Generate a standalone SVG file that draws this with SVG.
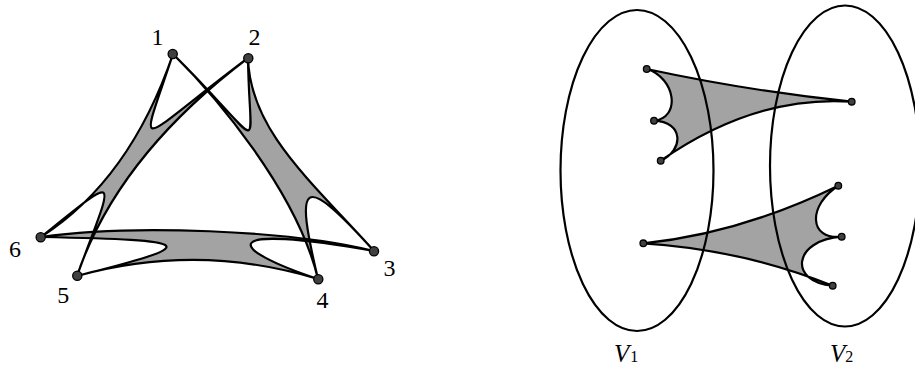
<svg xmlns="http://www.w3.org/2000/svg" width="915" height="369" viewBox="0 0 915 369">
<style>
.fill{fill:#a3a3a3;stroke:none}
.edge{fill:none;stroke:#000;stroke-width:2.2;stroke-linejoin:round}
.set{fill:none;stroke:#000;stroke-width:2.2}
.nd{fill:#404040;stroke:#000;stroke-width:1.3}
.lbl{font-family:"Liberation Serif",serif;font-size:24px;fill:#000;text-anchor:middle}
.vl{font-family:"Liberation Serif",serif;font-size:25px;font-style:italic;fill:#000}
.sub{font-style:normal;font-size:16px}
</style>
<defs>
<path id="eL" d="M41,237 Q130,180 173,54 C138,160 132,145 248,58 Q117,157 77,276 C114,175 124,170 41,237 Z"/>
<path id="eR" d="M248,58 C250,130 310,180 374,251 C300,169 295,182 318,279 C297,191.5 215.6,96 173,54 C270,150 249,160 248,58 Z"/>
<path id="eB" d="M41,237 C130,224 290,230 374,251 C215,223 225,248 318,279 Q198.5,242.5 77,276 C205,244 198,240 41,237 Z"/>
<path id="eT2" d="M646.7,69 Q749,91 851.7,101.7 Q755,95 660.7,160.7 C684,150 684,122 654,120.7 C681,118 676,78 646.7,69 Z"/>
<path id="eB2" d="M643.3,243.3 Q739.2,233.8 838.3,185.7 C808,205 808,240 841.7,236.7 C793,240 788,282 832.7,285.7 Q742.2,249.5 643.3,243.3 Z"/>
</defs>
<g id="connectors">
<use href="#eL" class="fill"/>
<use href="#eR" class="fill"/>
<use href="#eB" class="fill"/>
<use href="#eT2" class="fill"/>
<use href="#eB2" class="fill"/>
<use href="#eL" class="edge"/>
<use href="#eR" class="edge"/>
<use href="#eB" class="edge"/>
<use href="#eT2" class="edge"/>
<use href="#eB2" class="edge"/>
</g>
<g id="set-V1">
<ellipse class="set" cx="637" cy="170.5" rx="76.5" ry="160.5"/>
<text class="vl" x="614" y="361.5">V<tspan class="sub" dx="1" dy="0.5">1</tspan></text>
</g>
<g id="set-V2">
<ellipse class="set" cx="845" cy="166" rx="75" ry="160.5"/>
<text class="vl" x="830" y="361.5">V<tspan class="sub" dx="0" dy="0.5">2</tspan></text>
</g>
<g id="node-1"><circle class="nd" cx="172.7" cy="54" r="4.6"/><text class="lbl" x="157.5" y="45">1</text></g>
<g id="node-2"><circle class="nd" cx="248.3" cy="58.3" r="4.6"/><text class="lbl" x="254.5" y="45">2</text></g>
<g id="node-3"><circle class="nd" cx="374" cy="251.3" r="4.6"/><text class="lbl" x="389.5" y="276">3</text></g>
<g id="node-4"><circle class="nd" cx="318.3" cy="279.3" r="4.6"/><text class="lbl" x="322.5" y="308">4</text></g>
<g id="node-5"><circle class="nd" cx="77.3" cy="275.7" r="4.6"/><text class="lbl" x="63.3" y="303">5</text></g>
<g id="node-6"><circle class="nd" cx="40.7" cy="237.3" r="4.6"/><text class="lbl" x="15" y="256.5">6</text></g>
<g id="node-a"><circle class="nd" cx="646.7" cy="69" r="3.3"/></g>
<g id="node-b"><circle class="nd" cx="654" cy="120.7" r="3.3"/></g>
<g id="node-c"><circle class="nd" cx="660.7" cy="160.7" r="3.3"/></g>
<g id="node-d"><circle class="nd" cx="851.7" cy="101.7" r="3.3"/></g>
<g id="node-e"><circle class="nd" cx="643.3" cy="243.3" r="3.3"/></g>
<g id="node-f"><circle class="nd" cx="838.3" cy="185.7" r="3.3"/></g>
<g id="node-g"><circle class="nd" cx="841.7" cy="236.7" r="3.3"/></g>
<g id="node-h"><circle class="nd" cx="832.7" cy="285.7" r="3.3"/></g>
</svg>
